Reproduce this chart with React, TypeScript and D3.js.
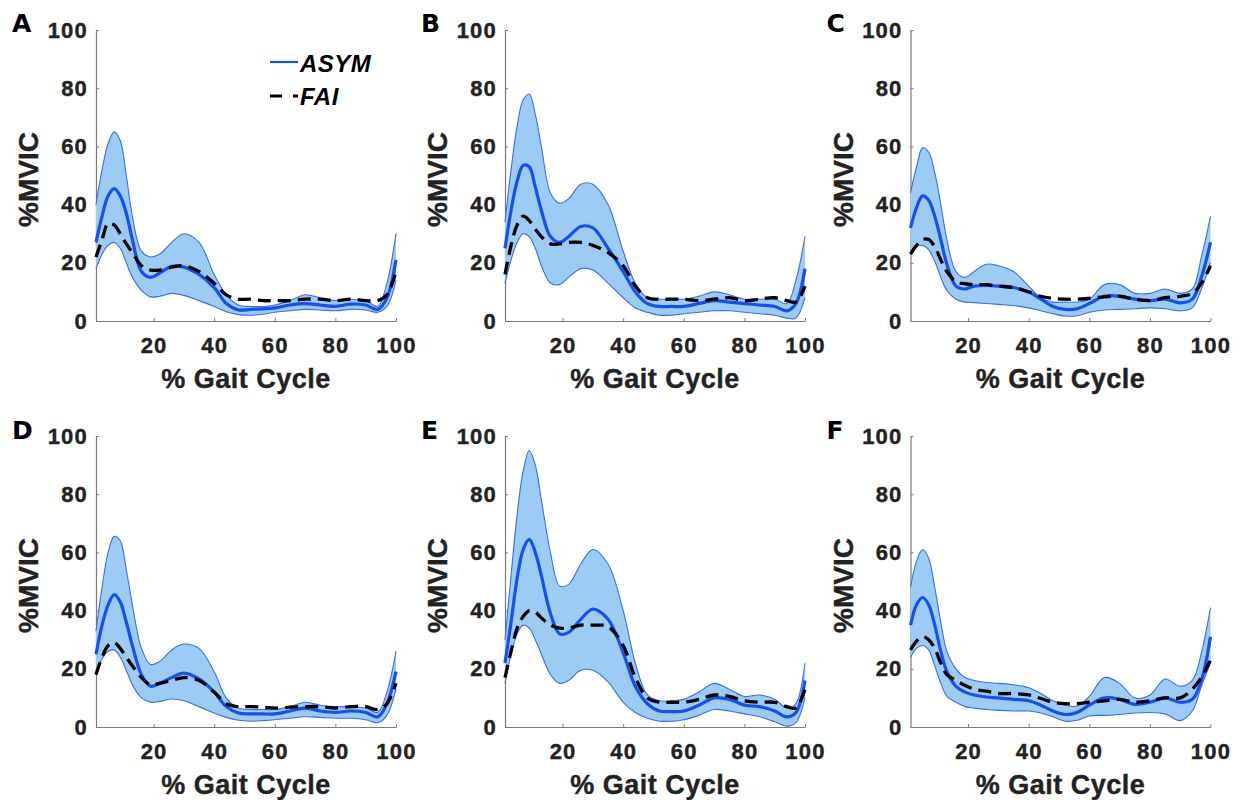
import React, { useEffect, useRef } from "react";
import * as d3 from "d3";

// % gait cycle sample points shared by every series
const GAIT = [1, 3, 5, 7, 9, 11, 13, 16, 19, 22, 26, 30, 35, 40, 44, 48, 52, 56, 60, 65, 70, 75, 80, 85, 90, 94, 97, 100];

const Y_TICKS = [0, 20, 40, 60, 80, 100];
const X_TICKS = [20, 40, 60, 80, 100];
const PANEL_LABELS = ["A", "B", "C", "D", "E", "F"];
const LEGEND = ["ASYM", "FAI"];

// panel A
const aMean = [27, 36, 43, 45.5, 43, 37, 28, 17, 15, 16.5, 18.8, 18.5, 16, 11.5, 6, 3.8, 4, 4.2, 4.5, 5.5, 6, 5.5, 5, 5.8, 5.5, 4, 8, 21];
const aUpper = [40, 52, 61, 65, 62, 50, 36, 24, 22, 23, 27, 30, 27, 16, 9, 5.5, 5, 5, 5.5, 7, 9, 8, 7, 7.5, 7, 5, 13, 30];
const aLower = [18, 23, 26, 27, 25, 20, 15, 10.5, 8.3, 8.5, 9.5, 8.8, 7, 5, 3.2, 2.2, 2, 2.3, 3, 3.5, 4, 3.8, 3.5, 4, 3.8, 3, 5, 14];
const aFai = [22, 28, 33.5, 33, 30, 26.5, 23.5, 19, 17.5, 17.5, 18.5, 19, 17, 13, 9, 7.5, 7.5, 7, 7, 7, 7.5, 7.5, 7, 7.5, 7, 7, 9, 17];

// panel B
const bMean = [25, 38, 48, 53.5, 53, 46, 38, 29, 27, 29, 32.5, 32, 25, 17, 10, 6, 5, 5, 5, 6, 7, 6.5, 6, 5.5, 5, 3.5, 6, 18];
const bUpper = [34, 52, 67, 76, 78, 71, 60, 44, 40.5, 42, 47, 47, 40, 24, 13, 8, 7.5, 7.5, 7.5, 8.5, 10, 9, 7.5, 7.5, 7.5, 6, 14, 29];
const bLower = [13, 21, 27, 30, 29, 25, 19, 13, 12.5, 15, 18, 17.5, 13, 8, 4.5, 3, 2, 2, 2.5, 3, 3.5, 3.5, 3, 2.5, 2, 1, 1, 8];
const bFai = [16, 26, 33, 36, 34.5, 31.5, 29, 26.5, 26.5, 27, 27, 26, 23.5, 19, 12, 8, 7.5, 7.5, 7.5, 7, 7.5, 8, 7, 7.5, 8, 7, 6.5, 12];

// panel C
const cMean = [32, 39, 43, 41.5, 36, 28, 19.5, 12, 11, 12, 12.2, 12, 11.5, 10, 7.5, 5, 4, 4.2, 6, 8.5, 8.5, 7.5, 7, 7.5, 6.2, 7.5, 15, 27];
const cUpper = [44, 53, 59.5, 58, 51, 40, 28, 17, 15, 17, 19.5, 19, 17, 12, 8, 6.5, 6.5, 6.5, 7.5, 12.5, 12.5, 9.5, 9.5, 11, 9.5, 11, 22, 36];
const cLower = [23, 25.5, 26, 24.5, 20.5, 15, 10.5, 7.5, 6.5, 6.3, 6, 5.7, 5.3, 4.5, 3.5, 2.5, 1.7, 1.8, 3, 3.8, 4, 4.2, 4.5, 4.2, 3.5, 4.5, 11, 20];
const cFai = [23, 26, 28, 28, 25.5, 21, 17, 13.5, 12.8, 12.5, 12.5, 12, 11.5, 10, 8.5, 7.8, 7.5, 7.5, 7.8, 8.3, 8.5, 7.5, 7, 8, 8.5, 9.5, 13, 19];

// panel D
const dMean = [25, 35, 42, 45.5, 43, 36, 28, 18, 14, 15, 17, 18.5, 16.5, 12, 7, 4.8, 4.5, 4.5, 4.5, 5.5, 6.5, 5.5, 5, 5.5, 5, 3.5, 8, 19];
const dUpper = [33, 48, 60, 65.5, 64, 54, 42, 27, 21.5, 22.5, 26.5, 28.5, 27, 19, 10, 6.5, 6, 6, 6, 7, 8.5, 7.5, 7, 7, 6.5, 5, 12, 26];
const dLower = [19, 23.5, 26, 26.5, 24, 19.5, 14.5, 10, 8.5, 8.8, 9.6, 9, 7, 4.8, 3.3, 2.3, 2, 2.2, 2.5, 3, 3.5, 3.3, 3, 3, 2.5, 1.5, 4, 13];
const dFai = [18, 24, 28, 29, 27, 24, 21, 17, 14.5, 15, 16, 17, 16, 12, 8, 7, 7, 6.8, 6.5, 6.8, 7, 7, 6.5, 7, 7, 6, 8, 15];

// panel E
const eMean = [22, 36, 51, 61, 64.5, 60, 52, 39, 32, 32.5, 37, 40.5, 37, 25.5, 14, 8, 5.5, 5.3, 5.5, 7.5, 10, 9.5, 7.5, 7, 5.5, 3.5, 5, 16];
const eUpper = [30, 52, 73, 88, 95, 90, 78, 60, 48.5, 49, 56, 61, 56, 40, 22, 11, 9, 9, 9.5, 12, 15, 13, 10.5, 11, 9.5, 6.5, 8, 22];
const eLower = [15, 25, 32, 35, 34, 30, 25, 18, 15, 16, 19.5, 19.5, 15.5, 8.5, 5, 3, 2, 2, 2.5, 4, 6, 5.5, 4.5, 3.5, 1.8, 0.3, 1.5, 10];
const eFai = [17, 26, 34, 38, 40, 39.5, 37.5, 35, 34, 34, 35, 35, 34.5, 28, 17, 10, 8.5, 8.5, 8.5, 9.5, 11, 10.5, 9, 8.5, 8.5, 7, 6.5, 13];

// panel F
const fMean = [35, 42, 44.5, 42, 35, 26, 19, 14, 12, 11, 10.3, 10, 9.5, 9, 7.5, 5.5, 4.3, 5, 7.5, 10, 9.5, 7.8, 8.5, 10, 8.5, 9.5, 16, 31];
const fUpper = [48, 57, 61, 58, 48, 36, 26, 20, 17, 16, 15.3, 15, 14.5, 13.5, 11.5, 9, 7.5, 7.2, 10.5, 17, 15, 10, 11, 16.5, 14, 16, 25.5, 41];
const fLower = [24, 27, 28, 26.5, 21, 15, 10.5, 8.5, 7, 6.5, 6, 5.7, 5.5, 5.5, 4.8, 3.5, 2, 2.3, 3.8, 4, 4.3, 4.8, 5, 4.5, 2.2, 5.5, 14, 22];
const fFai = [26.5, 29.5, 31, 30, 27, 22, 18, 16, 14.3, 13, 12.3, 11.5, 11.5, 11, 9.8, 8.5, 8, 8, 8.5, 9, 9.5, 8.5, 9, 10, 10, 13, 17, 23];

const PANELS = [
  { mean: aMean, upper: aUpper, lower: aLower, fai: aFai },
  { mean: bMean, upper: bUpper, lower: bLower, fai: bFai },
  { mean: cMean, upper: cUpper, lower: cLower, fai: cFai },
  { mean: dMean, upper: dUpper, lower: dLower, fai: dFai },
  { mean: eMean, upper: eUpper, lower: eLower, fai: eFai },
  { mean: fMean, upper: fUpper, lower: fLower, fai: fFai },
];

const W = 1249;
const H = 800;
const COL_X = [96, 505, 910.5];
const ROW_Y = [30, 436];
const PW = 300;
const PH = 291;

const FONT = "'Liberation Sans', Arial, Helvetica, sans-serif";
const TEXT = "#222";
const FILL = "#9ccbf3";
const EDGE = "#3a6cf4";
const BLUE = "#1450f2";

const App = () => {
  const ref = useRef<SVGSVGElement>(null);

  useEffect(() => {
    const svg = d3.select(ref.current);
    svg.selectAll("*").remove();

    PANELS.forEach((p, i) => {
      const left = COL_X[i % 3];
      const top = ROW_Y[Math.floor(i / 3)];
      const x = d3.scaleLinear().domain([1, 100]).range([left, left + PW]);
      const y = d3.scaleLinear().domain([0, 100]).range([top + PH, top]);
      const g = svg.append("g");

      const curve = d3.curveCatmullRom.alpha(0.5);
      const area = d3
        .area<number>()
        .x((_, k) => x(GAIT[k]))
        .y0((_, k) => y(p.lower[k]))
        .y1((_, k) => y(p.upper[k]))
        .curve(curve);
      const line = d3
        .line<number>()
        .x((_, k) => x(GAIT[k]))
        .y((d) => y(d))
        .curve(curve);

      // axes
      const yAxis = g
        .append("g")
        .attr("transform", `translate(${left},0)`)
        .call(d3.axisLeft(y).tickValues(Y_TICKS).tickSizeInner(-3).tickSizeOuter(0).tickPadding(8));
      const xAxis = g
        .append("g")
        .attr("transform", `translate(0,${top + PH})`)
        .call(d3.axisBottom(x).tickValues(X_TICKS).tickSizeInner(-3).tickSizeOuter(0).tickPadding(16));
      [yAxis, xAxis].forEach((a) => {
        a.select(".domain").attr("stroke", "#7a7a7a").attr("stroke-width", 1.2);
        a.selectAll(".tick line").attr("stroke", "#7a7a7a");
        a.selectAll(".tick text")
          .attr("fill", TEXT)
          .attr("stroke", TEXT)
          .attr("stroke-width", 0.4)
          .style("font-family", FONT)
          .style("font-weight", "bold")
          .style("font-size", "22px")
          .style("letter-spacing", "1.2px");
      });

      // band
      g.append("path").datum(p.upper).attr("d", area).attr("fill", FILL).attr("stroke", "none");
      g.append("path").datum(p.upper).attr("d", line).attr("fill", "none").attr("stroke", EDGE).attr("stroke-width", 1.1);
      g.append("path").datum(p.lower).attr("d", line).attr("fill", "none").attr("stroke", EDGE).attr("stroke-width", 1.1);
      // ASYM mean
      g.append("path").datum(p.mean).attr("d", line).attr("fill", "none").attr("stroke", BLUE).attr("stroke-width", 3.2);
      // FAI mean
      g.append("path")
        .datum(p.fai)
        .attr("d", line)
        .attr("fill", "none")
        .attr("stroke", "#000")
        .attr("stroke-width", 3.3)
        .attr("stroke-dasharray", "13,7");

      // labels
      g.append("text")
        .attr("x", left + PW / 2)
        .attr("y", top + PH + 67)
        .attr("text-anchor", "middle")
        .attr("fill", TEXT)
        .attr("stroke", TEXT)
        .attr("stroke-width", 0.4)
        .style("font-family", FONT)
        .style("font-weight", "bold")
        .style("font-size", "27px")
        .style("letter-spacing", "0.5px")
        .text("% Gait Cycle");
      g.append("text")
        .attr("transform", `translate(${left - 58},${top + PH / 2 + 4}) rotate(-90)`)
        .attr("text-anchor", "middle")
        .attr("fill", TEXT)
        .attr("stroke", TEXT)
        .attr("stroke-width", 0.4)
        .style("font-family", FONT)
        .style("font-weight", "bold")
        .style("font-size", "28px")
        .text("%MVIC");
      g.append("text")
        .attr("x", left - 84)
        .attr("y", top + 2 + (i >= 3 ? 1 : 0))
        .attr("fill", "#000")
        .style("font-family", "'DejaVu Sans', sans-serif")
        .style("font-weight", "bold")
        .style("font-size", "25px")
        .text(PANEL_LABELS[i]);

      if (i === 0) {
        const lg = g.append("g").attr("transform", `translate(${left + 174},${top + 32})`);
        lg.append("line").attr("x1", 0).attr("x2", 28).attr("y1", 0).attr("y2", 0).attr("stroke", BLUE).attr("stroke-width", 2.2);
        lg.append("line")
          .attr("x1", 0).attr("x2", 28).attr("y1", 34).attr("y2", 34)
          .attr("stroke", "#000").attr("stroke-width", 3).attr("stroke-dasharray", "12,11");
        LEGEND.forEach((t, k) => {
          lg.append("text")
            .attr("x", 30)
            .attr("y", 10 + k * 33)
            .attr("fill", "#000")
            .style("font-family", FONT)
            .style("font-weight", "bold")
            .style("font-style", "italic")
            .style("font-size", "24px")
            .style("letter-spacing", "0.5px")
            .text(t);
        });
      }
    });
  }, []);

  return (
    <svg
      ref={ref}
      width={W}
      height={H}
      style={{ position: "absolute", left: 0, top: 0, background: "#fff" }}
    />
  );
};

export default App;
